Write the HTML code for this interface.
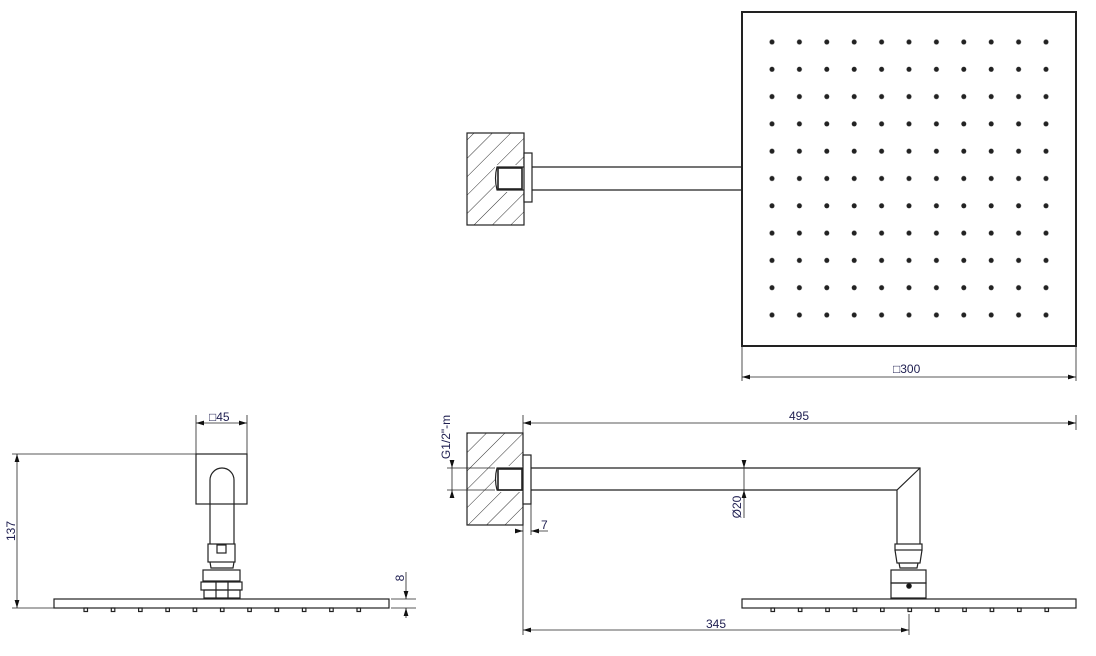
<!DOCTYPE html>
<html><head><meta charset="utf-8"><style>
html,body{margin:0;padding:0;background:#fff;}
svg{display:block;}
text{font-family:"Liberation Sans",sans-serif;font-size:12px;fill:#1e1e50;}
</style></head><body>
<svg width="1096" height="656" viewBox="0 0 1096 656" xmlns="http://www.w3.org/2000/svg">
<defs>
<pattern id="dots" x="758.3" y="28.3" width="27.4" height="27.3" patternUnits="userSpaceOnUse">
<circle cx="13.7" cy="13.7" r="2.5" fill="#222"/>
</pattern>
<pattern id="hatch" width="13" height="13" patternUnits="userSpaceOnUse" patternTransform="rotate(45)">
<line x1="0" y1="0" x2="0" y2="13" stroke="#333" stroke-width="1"/>
</pattern>
<marker id="a" viewBox="0 0 10 10" refX="10" refY="5" markerWidth="8" markerHeight="8" markerUnits="userSpaceOnUse" orient="auto-start-reverse">
<path d="M0,2 L10,5 L0,8 z" fill="#111"/>
</marker>
</defs>
<g fill="none" stroke="#222" stroke-width="1.2">
<rect x="467" y="133" width="57" height="92" fill="url(#hatch)"/>
<rect x="495" y="165" width="29" height="27" fill="#fff" stroke="none"/>
<path d="M524,167 L497,167 Q494,178 497,190 L524,190" fill="#fff"/>
<rect x="498" y="168" width="24" height="21" stroke-width="1.6"/>
<rect x="524" y="153" width="8" height="49" fill="#fff"/>
<line x1="532" y1="167" x2="742" y2="167"/>
<line x1="532" y1="190" x2="742" y2="190"/>
<rect x="742" y="12" width="334" height="334" stroke-width="2"/>
<rect x="758" y="28" width="302" height="300" fill="url(#dots)" stroke="none"/>
<line x1="742" y1="346" x2="742" y2="381" stroke-width="0.8"/>
<line x1="1076" y1="346" x2="1076" y2="381" stroke-width="0.8"/>
<line x1="742" y1="377" x2="1076" y2="377" stroke-width="0.8" marker-start="url(#a)" marker-end="url(#a)"/>

<line x1="196" y1="415" x2="196" y2="454" stroke-width="0.8"/>
<line x1="247" y1="415" x2="247" y2="454" stroke-width="0.8"/>
<line x1="196" y1="423" x2="247" y2="423" stroke-width="0.8" marker-start="url(#a)" marker-end="url(#a)"/>
<rect x="196" y="454" width="51" height="50"/>
<path d="M210,544 L210,480 A12,12 0 0 1 234,480 L234,544"/>
<rect x="208" y="544" width="27" height="18"/>
<rect x="217" y="545" width="9" height="8"/>
<path d="M210,562 L211,568 L233,568 L234,562"/>
<rect x="203" y="570" width="37" height="11"/>
<rect x="201" y="582" width="41" height="8"/>
<rect x="204" y="590" width="36" height="8"/>
<line x1="216" y1="582" x2="216" y2="598"/>
<line x1="228" y1="582" x2="228" y2="598"/>
<rect x="54" y="599" width="335" height="9"/>
<g>
<rect x="84" y="608" width="3.5" height="3.5"/><rect x="111.3" y="608" width="3.5" height="3.5"/><rect x="138.6" y="608" width="3.5" height="3.5"/><rect x="165.9" y="608" width="3.5" height="3.5"/><rect x="193.2" y="608" width="3.5" height="3.5"/><rect x="220.5" y="608" width="3.5" height="3.5"/><rect x="247.8" y="608" width="3.5" height="3.5"/><rect x="275.1" y="608" width="3.5" height="3.5"/><rect x="302.4" y="608" width="3.5" height="3.5"/><rect x="329.7" y="608" width="3.5" height="3.5"/><rect x="357" y="608" width="3.5" height="3.5"/>
</g>
<line x1="12" y1="454" x2="196" y2="454" stroke-width="0.8"/>
<line x1="12" y1="608" x2="54" y2="608" stroke-width="0.8"/>
<line x1="17" y1="454" x2="17" y2="608" stroke-width="0.8" marker-start="url(#a)" marker-end="url(#a)"/>
<line x1="391" y1="599" x2="416" y2="599" stroke-width="0.8"/>
<line x1="391" y1="608" x2="416" y2="608" stroke-width="0.8"/>
<line x1="406" y1="572" x2="406" y2="599" stroke-width="0.8" marker-end="url(#a)"/>
<line x1="406" y1="618" x2="406" y2="608" stroke-width="0.8" marker-end="url(#a)"/>

<rect x="467" y="433" width="56" height="92" fill="url(#hatch)"/>
<rect x="495" y="466" width="28" height="26" fill="#fff" stroke="none"/>
<path d="M523,468 L497,468 Q494,479 497,490 L523,490" fill="#fff"/>
<rect x="498" y="469" width="24" height="21" stroke-width="1.6"/>
<rect x="523" y="455" width="8" height="49" fill="#fff"/>
<path d="M531,468 L920,468 L920,544 M531,490 L897,490 L920,468 M897,490 L897,544"/>
<rect x="895" y="544" width="27" height="6"/>
<path d="M895,550 L897,563 L920,563 L922,550"/>
<path d="M899,563 L900,568 L917,568 L918,563"/>
<rect x="891" y="570" width="35" height="13"/>
<rect x="891" y="583" width="35" height="15"/>
<circle cx="909" cy="586" r="2.2" fill="#111"/>
<rect x="742" y="599" width="334" height="9"/>
<g>
<rect x="771" y="608" width="3.5" height="3.5"/><rect x="798.4" y="608" width="3.5" height="3.5"/><rect x="825.8" y="608" width="3.5" height="3.5"/><rect x="853.2" y="608" width="3.5" height="3.5"/><rect x="880.6" y="608" width="3.5" height="3.5"/><rect x="908" y="608" width="3.5" height="3.5"/><rect x="935.4" y="608" width="3.5" height="3.5"/><rect x="962.8" y="608" width="3.5" height="3.5"/><rect x="990.2" y="608" width="3.5" height="3.5"/><rect x="1017.6" y="608" width="3.5" height="3.5"/><rect x="1045" y="608" width="3.5" height="3.5"/>
</g>
<line x1="523" y1="415" x2="523" y2="635" stroke-width="0.8"/>
<line x1="1076" y1="415" x2="1076" y2="430" stroke-width="0.8"/>
<line x1="523" y1="423" x2="1076" y2="423" stroke-width="0.8" marker-start="url(#a)" marker-end="url(#a)"/>
<line x1="909" y1="614" x2="909" y2="635" stroke-width="0.8"/>
<line x1="523" y1="630" x2="909" y2="630" stroke-width="0.8" marker-start="url(#a)" marker-end="url(#a)"/>
<line x1="744" y1="460" x2="744" y2="468" stroke-width="0.8" marker-end="url(#a)"/>
<line x1="744" y1="468" x2="744" y2="490" stroke-width="0.8"/>
<line x1="744" y1="518" x2="744" y2="490" stroke-width="0.8" marker-end="url(#a)"/>
<line x1="447" y1="468" x2="495" y2="468" stroke-width="0.8"/>
<line x1="447" y1="490" x2="495" y2="490" stroke-width="0.8"/>
<line x1="452" y1="460" x2="452" y2="468" stroke-width="0.8" marker-end="url(#a)"/>
<line x1="452" y1="468" x2="452" y2="490" stroke-width="0.8"/>
<line x1="452" y1="498" x2="452" y2="490" stroke-width="0.8" marker-end="url(#a)"/>
<line x1="531" y1="504" x2="531" y2="535" stroke-width="0.8"/>
<line x1="515" y1="531" x2="523" y2="531" stroke-width="0.8" marker-end="url(#a)"/>
<line x1="548" y1="531" x2="531" y2="531" stroke-width="0.8" marker-end="url(#a)"/>
</g>
<text x="893" y="373">□300</text>
<text x="209" y="421">□45</text>
<text transform="translate(15,531) rotate(-90)" text-anchor="middle">137</text>
<text transform="translate(404,578) rotate(-90)" text-anchor="middle">8</text>
<text x="799" y="420" text-anchor="middle">495</text>
<text x="716" y="628" text-anchor="middle">345</text>
<text transform="translate(741,507) rotate(-90)" text-anchor="middle">Ø20</text>
<text transform="translate(450,437) rotate(-90)" text-anchor="middle">G1/2"-m</text>
<text x="541" y="529">7</text>
</svg>
</body></html>
